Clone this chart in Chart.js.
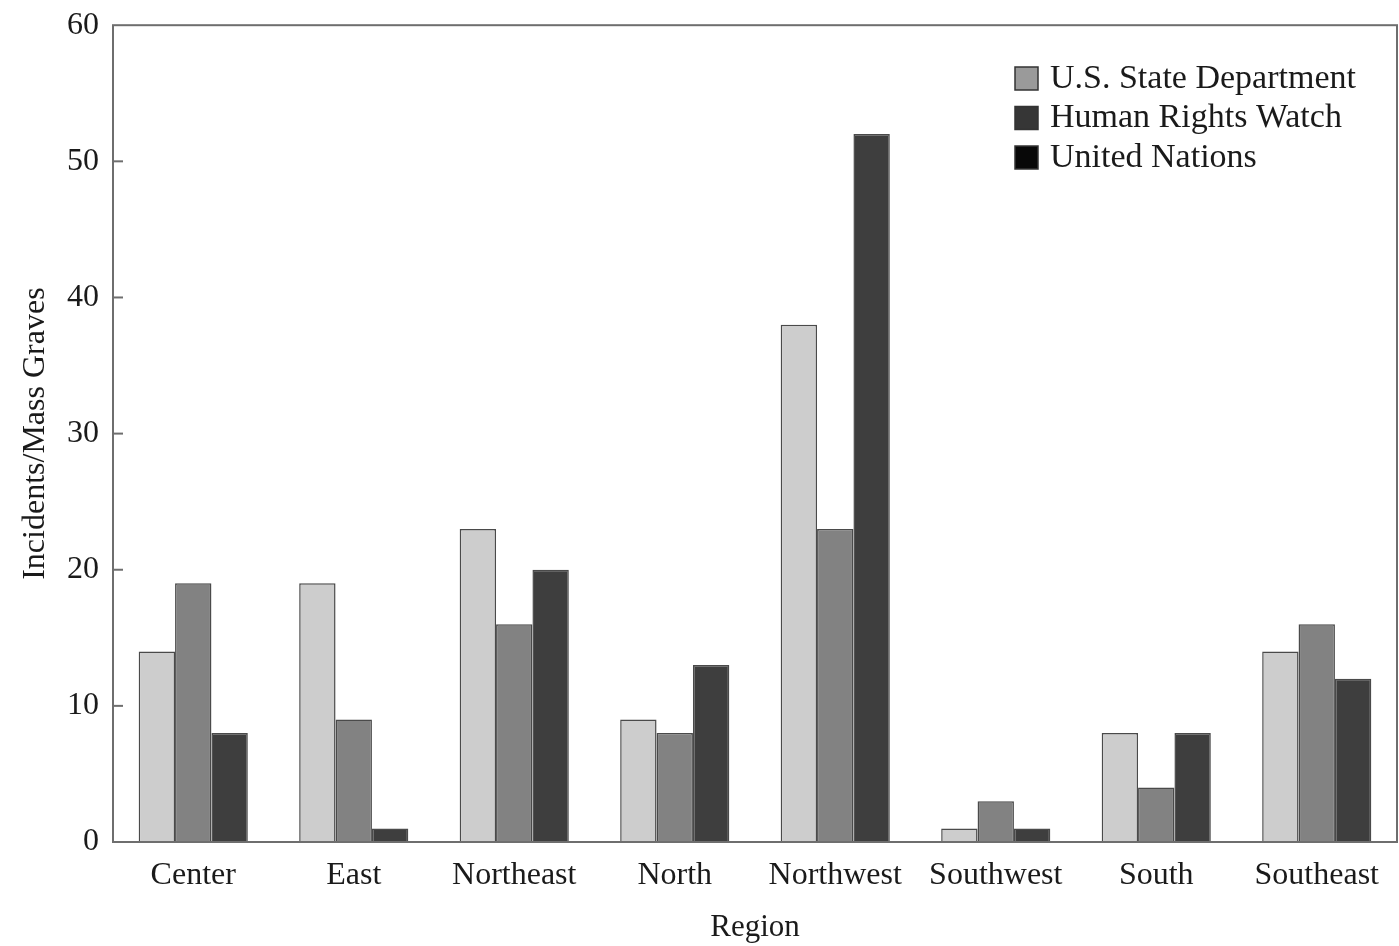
<!DOCTYPE html>
<html>
<head>
<meta charset="utf-8">
<script src="https://cdn.jsdelivr.net/npm/chart.js@4"></script>
<style>
  html, body { margin: 0; padding: 0; background: #fff; }
  #wrap { width: 1399px; height: 946px; }
</style>
</head>
<body>
<div id="wrap"><canvas id="myChart"></canvas></div>
<script>
// data
const regions = ["Center", "East", "Northeast", "North", "Northwest", "Southwest", "South", "Southeast"];
const stateDept = [14, 19, 23, 9, 38, 1, 8, 14];
const humanRights = [19, 9, 16, 8, 23, 3, 4, 16];
const unitedNations = [8, 1, 20, 13, 52, 1, 8, 12];
const seriesNames = ["U.S. State Department", "Human Rights Watch", "United Nations"];
const yTicks = [0, 10, 20, 30, 40, 50, 60];

const barColors = ["#cdcdcd", "#828282", "#3e3e3e"];
const legendColors = ["#9a9a9a", "#363636", "#080808"];
const serif = "'Liberation Serif', 'DejaVu Serif', serif";
const textColor = "#1a1a1a";

// frame, inward ticks and the legend box drawn on top
const framePlugin = {
  id: "frame",
  afterDraw: (chart) => {
    const { ctx, chartArea } = chart;
    const y = chart.scales.y;
    ctx.save();
    ctx.strokeStyle = "#6e6e6e";
    ctx.lineWidth = 2;
    ctx.strokeRect(chartArea.left, chartArea.top, chartArea.right - chartArea.left, chartArea.bottom - chartArea.top);
    yTicks.forEach((v) => {
      if (v == 0 || v == 60) return;
      const py = y.getPixelForValue(v);
      ctx.beginPath();
      ctx.moveTo(chartArea.left, py);
      ctx.lineTo(chartArea.left + 10, py);
      ctx.stroke();
    });

    // legend
    ctx.font = "34px " + serif;
    ctx.textBaseline = "middle";
    ctx.textAlign = "left";
    chart.data.datasets.forEach((ds, i) => {
      const ly = 78 + i * 39.5;
      ctx.fillStyle = legendColors[i];
      ctx.fillRect(1015, ly - 11, 23, 23);
      ctx.strokeStyle = "#333";
      ctx.lineWidth = 1.5;
      ctx.strokeRect(1015, ly - 11, 23, 23);
      ctx.fillStyle = textColor;
      ctx.fillText(ds.label, 1050, ly + 1);
    });
    ctx.restore();
  },
};

var ctx = document.getElementById("myChart").getContext("2d");
var myChart = new Chart(ctx, {
  type: "bar",
  data: {
    labels: regions,
    datasets: [
      { label: seriesNames[0], data: stateDept, backgroundColor: barColors[0] },
      { label: seriesNames[1], data: humanRights, backgroundColor: barColors[1] },
      { label: seriesNames[2], data: unitedNations, backgroundColor: barColors[2] },
    ],
  },
  options: {
    responsive: true,
    maintainAspectRatio: false,
    animation: false,
    devicePixelRatio: 1,
    layout: { padding: { top: 9, right: 2, left: 0, bottom: 0 } },
    datasets: {
      bar: {
        categoryPercentage: 0.68,
        barPercentage: 1.0,
        borderColor: "#4a4a4a",
        borderWidth: 1.5,
      },
    },
    plugins: {
      legend: { display: false },
      tooltip: { enabled: false },
    },
    scales: {
      x: {
        grid: { display: false },
        border: { display: false },
        ticks: {
          color: textColor,
          font: { family: serif, size: 32 },
          padding: 6,
          maxRotation: 0,
          autoSkip: false,
        },
        title: {
          display: true,
          text: "Region",
          color: textColor,
          font: { family: serif, size: 31 },
          padding: { top: 2, bottom: 0 },
        },
        afterFit: (scale) => {
          scale.height = 104;
        },
      },
      y: {
        min: 0,
        max: 60,
        grid: { display: false },
        border: { display: false },
        afterBuildTicks: (scale) => {
          scale.ticks = yTicks.map((v) => ({ value: v }));
        },
        ticks: {
          color: textColor,
          font: { family: serif, size: 32 },
          padding: 6,
        },
        title: {
          display: true,
          text: "Incidents/Mass Graves",
          color: textColor,
          font: { family: serif, size: 32 },
          padding: { top: 16, bottom: 6 },
        },
        afterFit: (scale) => {
          scale.width = 113;
        },
      },
    },
  },
  plugins: [framePlugin],
});
</script>
</body>
</html>
